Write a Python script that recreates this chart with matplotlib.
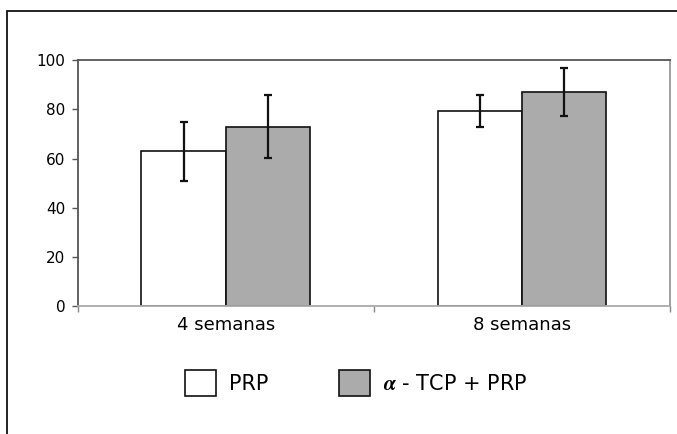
import matplotlib.pyplot as plt
import numpy as np
from matplotlib.patches import Rectangle

plt.rcParams["font.family"] = "DejaVu Sans"
plt.rcParams["mathtext.fontset"] = "stix"

categories = ["4 semanas", "8 semanas"]
prp = [63, 79.5]
prp_err = [12, 6.5]
tcp_prp = [73, 87]
tcp_prp_err = [12.7, 9.8]
series_names = ["PRP", r"$\boldsymbol{\alpha}$ - TCP + PRP"]

fig = plt.figure(figsize=(6.77, 4.34), dpi=100)
ax = fig.add_axes([0.1148, 0.2949, 0.8749, 0.5661])

x = np.arange(len(categories))
w = 0.285
err_kw = dict(elinewidth=1.6, capsize=3.2, capthick=1.6, ecolor="#111111")

b1 = ax.bar(x - w / 2, prp, w, yerr=prp_err, color="white",
            edgecolor="#111111", linewidth=1.2, error_kw=err_kw, zorder=2)
b2 = ax.bar(x + w / 2, tcp_prp, w, yerr=tcp_prp_err, color="#ababab",
            edgecolor="#111111", linewidth=1.2, error_kw=err_kw, zorder=2)

ax.set_xlim(-0.5, 1.5)
ax.set_ylim(0, 100)
ax.set_yticks([0, 20, 40, 60, 80, 100])
ax.tick_params(axis="y", labelsize=11, length=4, width=1, color="#555555", pad=5)

ax.set_xticks(x)
ax.set_xticklabels(categories)
ax.tick_params(axis="x", which="major", length=0, labelsize=13, pad=7)
ax.set_xticks([-0.5, 0.5, 1.5], minor=True)
ax.tick_params(axis="x", which="minor", length=4, width=1, color="#888888")

ax.spines["left"].set_color("#555555")
ax.spines["top"].set_color("#555555")
ax.spines["right"].set_color("#999999")
ax.spines["bottom"].set_color("#aaaaaa")
for s in ax.spines.values():
    s.set_linewidth(1.3)

# outer frame (only left and top visible in the crop)
fig.add_artist(Rectangle((7 / 677, -0.5), 2, 0.5 + 1 - 10.7 / 434,
                         transform=fig.transFigure, fill=False,
                         edgecolor="#111111", linewidth=1.3))

leg = fig.legend([b1, b2], series_names, loc="center",
                 bbox_to_anchor=(0.526, 0.1175), ncol=2, frameon=False,
                 fontsize=15, handlelength=1.5, handleheight=1.5,
                 handletextpad=0.6, columnspacing=3.4)

plt.savefig("out.png", dpi=100)
